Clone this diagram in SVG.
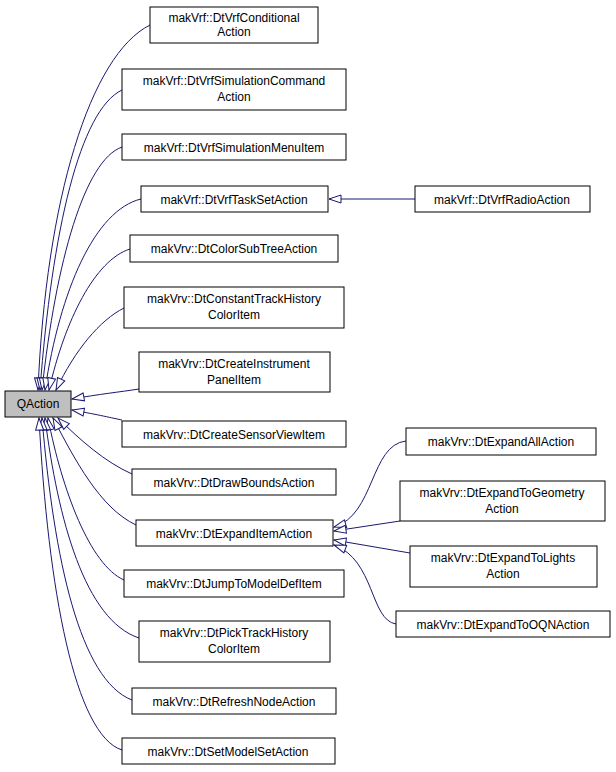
<svg xmlns="http://www.w3.org/2000/svg" width="616" height="772" viewBox="0 0 616 772">
<defs>
<style>
.n rect{fill:#fff;stroke:#000;stroke-width:1}
text{font-family:"Liberation Sans",Arial,sans-serif;font-size:12px;text-anchor:middle;fill:#000}
.e path{fill:none;stroke:#191970;stroke-width:1}
</style>
<marker id="a" viewBox="0 0 14 10" refX="1" refY="5" markerWidth="14" markerHeight="10" orient="auto" markerUnits="userSpaceOnUse">
<path d="M13,1 L1,5 L13,9 Z" fill="#fff" stroke="#191970"/>
</marker>
</defs>
<rect width="616" height="772" fill="#fff"/>
<g class="e">
<path marker-start="url(#a)" d="M38,390 C46,200 90,55 150,25"/>
<path marker-start="url(#a)" d="M40,390 C52,230 80,110 122,90"/>
<path marker-start="url(#a)" d="M42,390 C56,260 85,160 122,147"/>
<path marker-start="url(#a)" d="M45,390 C60,290 95,210 141,199"/>
<path marker-start="url(#a)" d="M49,390 C65,320 95,260 130,249"/>
<path marker-start="url(#a)" d="M56,390 C75,350 100,320 124,308"/>
<path marker-start="url(#a)" d="M72,399 C100,394 120,392 139,389"/>
<path marker-start="url(#a)" d="M72,410 C100,415 112,418 122,420"/>
<path marker-start="url(#a)" d="M58,418 C80,440 105,462 132,474"/>
<path marker-start="url(#a)" d="M53,418 C75,460 100,508 136,525"/>
<path marker-start="url(#a)" d="M48,418 C62,490 90,565 124,580"/>
<path marker-start="url(#a)" d="M45,418 C58,520 85,620 139,638"/>
<path marker-start="url(#a)" d="M42,418 C54,560 80,680 132,700"/>
<path marker-start="url(#a)" d="M39,418 C48,590 75,735 122,750"/>
<path marker-start="url(#a)" d="M329,199 L415,199"/>
<path marker-start="url(#a)" d="M334,527 C375,515 370,445 406,441"/>
<path marker-start="url(#a)" d="M334,531 L400,521"/>
<path marker-start="url(#a)" d="M334,540 L410,553"/>
<path marker-start="url(#a)" d="M334,545 C375,560 370,620 396,624"/>
</g>
<g id="QAction" class="n"><rect x="5" y="391" width="66" height="26" style="fill:#bfbfbf"/><text x="38" y="408">QAction</text></g>
<g id="n1" class="n"><rect x="150" y="7" width="168" height="36"/><text x="234" y="22">makVrf::DtVrfConditional</text><text x="234" y="36">Action</text></g>
<g id="n2" class="n"><rect x="122" y="69" width="224" height="41"/><text x="234" y="85">makVrf::DtVrfSimulationCommand</text><text x="234" y="101">Action</text></g>
<g id="n3" class="n"><rect x="122" y="134" width="224" height="26"/><text x="234" y="152">makVrf::DtVrfSimulationMenuItem</text></g>
<g id="n4" class="n"><rect x="141" y="186" width="187" height="26"/><text x="234" y="204">makVrf::DtVrfTaskSetAction</text></g>
<g id="n5" class="n"><rect x="130" y="235" width="208" height="27"/><text x="234" y="253">makVrv::DtColorSubTreeAction</text></g>
<g id="n6" class="n"><rect x="124" y="287" width="220" height="41"/><text x="234" y="303">makVrv::DtConstantTrackHistory</text><text x="234" y="319">ColorItem</text></g>
<g id="n7" class="n"><rect x="139" y="352" width="191" height="40"/><text x="234" y="368">makVrv::DtCreateInstrument</text><text x="234" y="384">PanelItem</text></g>
<g id="n8" class="n"><rect x="122" y="421" width="224" height="26"/><text x="234" y="439">makVrv::DtCreateSensorViewItem</text></g>
<g id="n9" class="n"><rect x="132" y="469" width="204" height="26"/><text x="234" y="487">makVrv::DtDrawBoundsAction</text></g>
<g id="n10" class="n"><rect x="136" y="520" width="197" height="26"/><text x="234" y="538">makVrv::DtExpandItemAction</text></g>
<g id="n11" class="n"><rect x="124" y="570" width="220" height="27"/><text x="234" y="588">makVrv::DtJumpToModelDefItem</text></g>
<g id="n12" class="n"><rect x="139" y="621" width="191" height="41"/><text x="234" y="637">makVrv::DtPickTrackHistory</text><text x="234" y="653">ColorItem</text></g>
<g id="n13" class="n"><rect x="132" y="688" width="204" height="26"/><text x="234" y="706">makVrv::DtRefreshNodeAction</text></g>
<g id="n14" class="n"><rect x="122" y="738" width="213" height="26"/><text x="228" y="756">makVrv::DtSetModelSetAction</text></g>
<g id="n15" class="n"><rect x="415" y="186" width="175" height="26"/><text x="502" y="204">makVrf::DtVrfRadioAction</text></g>
<g id="n16" class="n"><rect x="406" y="428" width="190" height="27"/><text x="501" y="446">makVrv::DtExpandAllAction</text></g>
<g id="n17" class="n"><rect x="400" y="481" width="205" height="40"/><text x="502" y="497">makVrv::DtExpandToGeometry</text><text x="502" y="513">Action</text></g>
<g id="n18" class="n"><rect x="410" y="546" width="187" height="41"/><text x="503" y="562">makVrv::DtExpandToLights</text><text x="503" y="578">Action</text></g>
<g id="n19" class="n"><rect x="396" y="611" width="214" height="26"/><text x="503" y="629">makVrv::DtExpandToOQNAction</text></g>
</svg>
